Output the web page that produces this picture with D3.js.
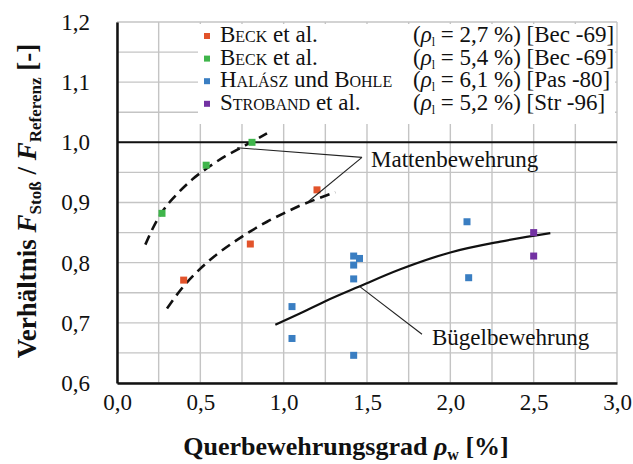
<!DOCTYPE html>
<html><head><meta charset="utf-8">
<script src="https://cdn.jsdelivr.net/npm/d3@7"></script>
<style>
html,body{margin:0;padding:0;background:#fff;}
svg text{font-family:"Liberation Serif","Times New Roman",serif;fill:#111;}
</style></head>
<body><svg id="c" width="633" height="464"></svg>
<script>
// ---- data ----
const xTicks = [0, 0.5, 1.0, 1.5, 2.0, 2.5, 3.0];
const yTicks = [0.6, 0.7, 0.8, 0.9, 1.0, 1.1, 1.2];
const beck27 = [[0.40, 0.771], [0.80, 0.831], [1.20, 0.921]];
const beck54 = [[0.27, 0.882], [0.535, 0.962], [0.81, 1.000]];
const halasz = [[1.05, 0.727], [1.05, 0.674], [1.42, 0.811], [1.455, 0.807], [1.42, 0.796], [1.42, 0.773], [1.42, 0.646], [2.10, 0.868], [2.11, 0.775]];
const stroband = [[2.50, 0.850], [2.50, 0.811]];
const mattenCurveA = [[0.17, 0.830], [0.22, 0.860], [0.27, 0.884], [0.35, 0.911], [0.45, 0.938], [0.55, 0.959], [0.65, 0.977], [0.75, 0.992], [0.81, 1.001], [0.90, 1.015]];
const mattenCurveB = [[0.30, 0.724], [0.40, 0.761], [0.50, 0.790], [0.60, 0.814], [0.70, 0.834], [0.80, 0.852], [0.90, 0.868], [1.00, 0.882], [1.10, 0.895], [1.20, 0.906], [1.31, 0.917]];
const buegelCurve = [[0.95, 0.697], [1.10, 0.716], [1.25, 0.736], [1.45, 0.760], [1.70, 0.789], [2.00, 0.817], [2.30, 0.835], [2.60, 0.849]];
const legendNames = ["Beck et al.", "Beck et al.", "Halász und Bohle", "Stroband et al."];
const legendRho = ["2,7", "5,4", "6,1", "5,2"];
const legendRef = ["[Bec -69]", "[Bec -69]", "[Pas -80]", "[Str -96]"];
const colors = ["#e2532b", "#3fb54b", "#3a7ec2", "#7231a2"];
const series = [beck27, beck54, halasz, stroband];

// ---- layout ----
const svg = d3.select("#c");
const L = 117, T = 22, W = 500, H = 361;
const x = d3.scaleLinear().domain([0, 3]).range([L, L + W]);
const y = d3.scaleLinear().domain([0.6, 1.2]).range([T + H, T]);

// grid
const g = svg.append("g");
g.selectAll(".vx").data(d3.range(0, 3.001, 0.25)).join("line")
  .attr("x1", d => x(d)).attr("x2", d => x(d)).attr("y1", T).attr("y2", T + H)
  .attr("stroke", "#c4c4c4").attr("stroke-width", 1.4);
g.selectAll(".hy").data(d3.range(0.6, 1.2001, 0.05)).join("line")
  .attr("x1", L).attr("x2", L + W).attr("y1", d => y(d)).attr("y2", d => y(d))
  .attr("stroke", "#c4c4c4").attr("stroke-width", 1.4);

// legend background
svg.append("rect").attr("x", 198).attr("y", 24).attr("width", 417).attr("height", 100).attr("fill", "#fff");

// reference line at 1.0
svg.append("line").attr("x1", L).attr("x2", L + W).attr("y1", y(1.0)).attr("y2", y(1.0))
  .attr("stroke", "#111").attr("stroke-width", 2);

// axes
const fmt = d => d3.format(".1f")(d).replace(".", ",");
const xAxis = svg.append("g").attr("transform", `translate(0,${T + H})`)
  .call(d3.axisBottom(x).tickValues(xTicks).tickSize(0).tickFormat(fmt));
xAxis.select(".domain").attr("stroke", "#111").attr("stroke-width", 2.5);
xAxis.selectAll("text").attr("dy", 0).attr("y", 27).style("font-size", "23px").attr("fill", "#111");
const yAxis = svg.append("g").attr("transform", `translate(${L},0)`)
  .call(d3.axisLeft(y).tickValues(yTicks).tickSize(0).tickFormat(fmt));
yAxis.select(".domain").attr("stroke", "#111").attr("stroke-width", 2.5);
yAxis.selectAll("text").attr("x", -27).attr("dy", "0.32em").style("font-size", "23px").attr("fill", "#111");

// curves
const line = d3.line().x(d => x(d[0])).y(d => y(d[1])).curve(d3.curveMonotoneX);
[mattenCurveA, mattenCurveB].forEach(c => svg.append("path").attr("d", line(c)).attr("fill", "none")
  .attr("stroke", "#111").attr("stroke-width", 2.6).attr("stroke-dasharray", "10,6"));
svg.append("path").attr("d", line(buegelCurve)).attr("fill", "none").attr("stroke", "#111").attr("stroke-width", 2.2);

// points
series.forEach((s, i) => svg.append("g").selectAll("rect").data(s).join("rect")
  .attr("x", d => x(d[0]) - 3.5).attr("y", d => y(d[1]) - 3.5).attr("width", 7).attr("height", 7)
  .attr("fill", colors[i]));

// annotations
const lead = (a, b) => svg.append("line").attr("x1", x(a[0])).attr("y1", y(a[1])).attr("x2", x(b[0])).attr("y2", y(b[1]))
  .attr("stroke", "#222").attr("stroke-width", 1.1);
lead([1.47, 0.975], [0.72, 0.991]);
lead([1.47, 0.975], [1.15, 0.902]);
lead([1.453, 0.761], [1.83, 0.681]);
svg.append("text").attr("x", 371).attr("y", 167).style("font-size", "23px").text("Mattenbewehrung");
svg.append("text").attr("x", 432).attr("y", 345).style("font-size", "23px").text("Bügelbewehrung");

// legend
const lowerWords = ["et", "al.", "und"];
legendNames.forEach((n, i) => {
  const by = 42 + i * 22.6;
  svg.append("rect").attr("x", 204).attr("y", by - 9).attr("width", 6).attr("height", 6).attr("fill", colors[i]);
  const nt = svg.append("text").attr("x", 220).attr("y", by).style("font-size", "23px");
  n.split(" ").forEach((w, k) => {
    nt.append("tspan").style("font-variant", lowerWords.includes(w) ? "normal" : "small-caps")
      .text((k > 0 ? " " : "") + w);
  });
  const t = svg.append("text").attr("x", 413).attr("y", by).style("font-size", "23px");
  t.append("tspan").text("(");
  t.append("tspan").style("font-style", "italic").text("ρ");
  t.append("tspan").attr("dy", 4).style("font-size", "12px").text("l");
  t.append("tspan").attr("dy", -4).text(` = ${legendRho[i]} %) ${legendRef[i]}`);
});

// axis titles
const xt = svg.append("text").attr("x", 346).attr("y", 455).attr("text-anchor", "middle")
  .style("font-size", "26px").style("font-weight", "bold");
xt.append("tspan").text("Querbewehrungsgrad ");
xt.append("tspan").style("font-style", "italic").text("ρ");
xt.append("tspan").attr("dy", 5).style("font-size", "16px").text("w");
xt.append("tspan").attr("dy", -5).text(" [%]");

const yt = svg.append("text").attr("transform", "translate(36,201) rotate(-90)").attr("text-anchor", "middle")
  .style("font-size", "27px").style("font-weight", "bold");
yt.append("tspan").text("Verhältnis ");
yt.append("tspan").style("font-style", "italic").text("F");
yt.append("tspan").attr("dy", 5).style("font-size", "17px").text("Stoß");
yt.append("tspan").attr("dy", -5).text(" / ");
yt.append("tspan").style("font-style", "italic").text("F");
yt.append("tspan").attr("dy", 5).style("font-size", "17px").text("Referenz");
yt.append("tspan").attr("dy", -5).text(" [-]");
</script></body></html>
